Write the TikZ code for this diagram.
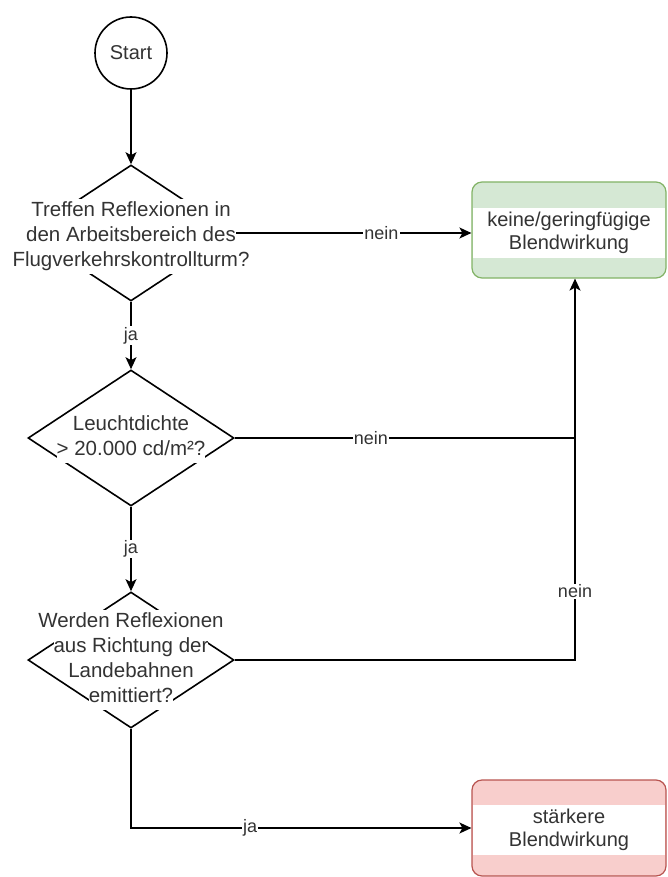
\documentclass[tikz,border=0pt]{standalone}
\usepackage{fontspec}
\setmainfont{Liberation Sans}
\usepackage{tikz}
\usetikzlibrary{shapes.geometric,arrows.meta}
\definecolor{txt}{HTML}{333333}
\definecolor{okfill}{HTML}{D5E8D4}
\definecolor{okline}{HTML}{82B366}
\definecolor{badfill}{HTML}{F8CECC}
\definecolor{badline}{HTML}{B85450}
\setlength{\fboxsep}{0pt}
\newcommand{\wl}[1]{\colorbox{white}{\strut #1}}

\begin{document}
\begin{tikzpicture}[x=1pt,y=-1pt,line width=1.6pt,
  >={Stealth[length=12pt,width=11pt,inset=3pt]},
  every node/.style={text=txt},
  q/.style={diamond,draw,inner sep=0pt,minimum width=206pt,minimum height=136pt},
  qtext/.style={align=center,inner sep=0pt,font=\fontsize{20.5}{25}\selectfont},
  res/.style={rectangle,rounded corners=10pt,draw,line width=1.2pt,minimum width=194pt,minimum height=96pt},
  band/.style={fill=white,inner sep=0pt,minimum width=192pt,minimum height=50pt,align=center,font=\fontsize{20}{22.5}\selectfont},
  lbl/.style={fill=white,inner sep=1pt,font=\fontsize{18}{20}\selectfont}]
\useasboundingbox (0,0) rectangle (667,877);

\node (start)[circle,draw,minimum size=72pt,inner sep=0pt,font=\fontsize{20}{24}\selectfont] at (131,53) {Start};
\node (q1)[q] at (131,233) {};
\node (q2)[q] at (131,438) {};
\node (q3)[q] at (131,660) {};

\node (ok)[res,fill=okfill,draw=okline] at (569,230) {};
\node (okt)[band] at (569,233) {keine/geringfügige\\Blendwirkung};
\node (bad)[res,fill=badfill,draw=badline] at (569,828) {};
\node (badt)[band] at (569,830) {stärkere\\Blendwirkung};

\coordinate (j) at (575,660);

\draw[->] (start) -- (q1);
\draw[->] (q1.east) -- node[lbl,pos=0.62]{nein} (q1.east -| ok.west);
\draw[->] (q1) -- node[lbl]{ja} (q2);
\draw (q2.east) -- node[lbl,pos=0.4]{nein} (q2.east -| j);
\draw[->] (q2) -- node[lbl]{ja} (q3);
\draw[->] (q3.east) -- (j) -- node[lbl,pos=0.18]{nein} (j |- ok.south);
\draw[->] (q3.south) |- node[lbl,pos=0.675]{ja} (bad.west);

\node (q1t)[qtext] at (131,236) {\wl{Treffen Reflexionen in}\\\wl{den Arbeitsbereich des}\\\wl{Flugverkehrskontrollturm?}};
\node (q2t)[qtext] at (131,438) {\wl{Leuchtdichte}\\\wl{> 20.000 cd/m²?}};
\node (q3t)[qtext] at (131,660) {\wl{Werden Reflexionen}\\\wl{aus Richtung der}\\\wl{Landebahnen}\\\wl{emittiert?}};
\end{tikzpicture}
\end{document}
